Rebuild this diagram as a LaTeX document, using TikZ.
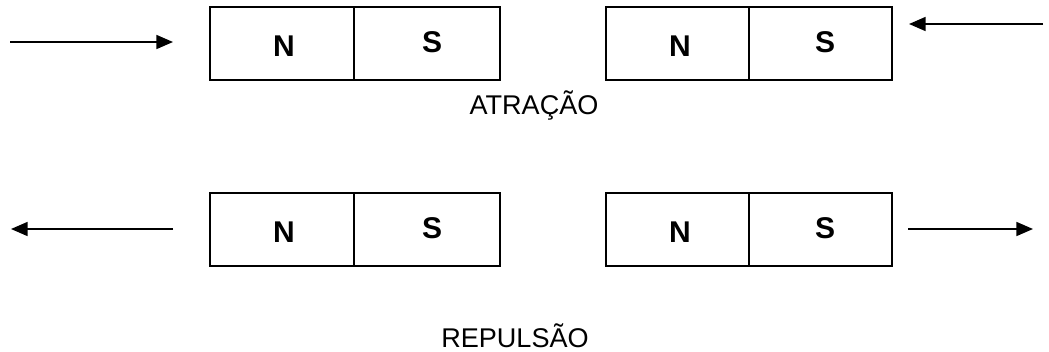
\documentclass[tikz,border=0pt]{standalone}
\usepackage{fontspec}
\setmainfont{Liberation Sans}
\usetikzlibrary{arrows.meta}

\tikzset{
  half/.style={draw, line width=1.3pt, minimum height=54.75pt, inner sep=0pt},
  pole/.style={font=\fontsize{22.5}{22.5}\selectfont\bfseries, anchor=base, inner sep=0pt},
  caption/.style={font=\fontsize{20.3}{20.3}\selectfont, anchor=base, inner sep=0pt},
  force/.style={line width=1.3pt, -{Triangle[length=12.5pt,width=10.5pt]}}
}

\begin{document}
\begin{tikzpicture}[x=0.75pt,y=-0.75pt]
\useasboundingbox (0,0) rectangle (1049,351);

% attraction pair
\node[half, minimum width=108pt, anchor=north west] (an1) at (209,6) {};
\node[half, minimum width=109.5pt, anchor=north west] (as1) at (353,6) {};
\node[half, minimum width=107.25pt, anchor=north west] (an2) at (605,6) {};
\node[half, minimum width=107.25pt, anchor=north west] (as2) at (748,6) {};
\node[pole] (tan1) at (284,56) {N};
\node[pole] (tas1) at (432,52) {S};
\node[pole] (tan2) at (680,56) {N};
\node[pole] (tas2) at (825,52) {S};

\coordinate (fa1s) at (10,42);
\coordinate (fa1e) at (173,42);
\coordinate (fa2s) at (1043,24);
\coordinate (fa2e) at (909,24);
\draw[force] (fa1s) -- (fa1e);
\draw[force] (fa2s) -- (fa2e);

\node[caption] (atr) at (534,114) {ATRAÇÃO};

% repulsion pair
\node[half, minimum width=108pt, anchor=north west] (rn1) at (209,192) {};
\node[half, minimum width=109.5pt, anchor=north west] (rs1) at (353,192) {};
\node[half, minimum width=107.25pt, anchor=north west] (rn2) at (605,192) {};
\node[half, minimum width=107.25pt, anchor=north west] (rs2) at (748,192) {};
\node[pole] (trn1) at (284,242) {N};
\node[pole] (trs1) at (432,238) {S};
\node[pole] (trn2) at (680,242) {N};
\node[pole] (trs2) at (825,238) {S};

\coordinate (fr1s) at (173,229);
\coordinate (fr1e) at (11,229);
\coordinate (fr2s) at (908,229);
\coordinate (fr2e) at (1033,229);
\draw[force] (fr1s) -- (fr1e);
\draw[force] (fr2s) -- (fr2e);

\node[caption] (rep) at (515,347) {REPULSÃO};
\end{tikzpicture}
\end{document}
